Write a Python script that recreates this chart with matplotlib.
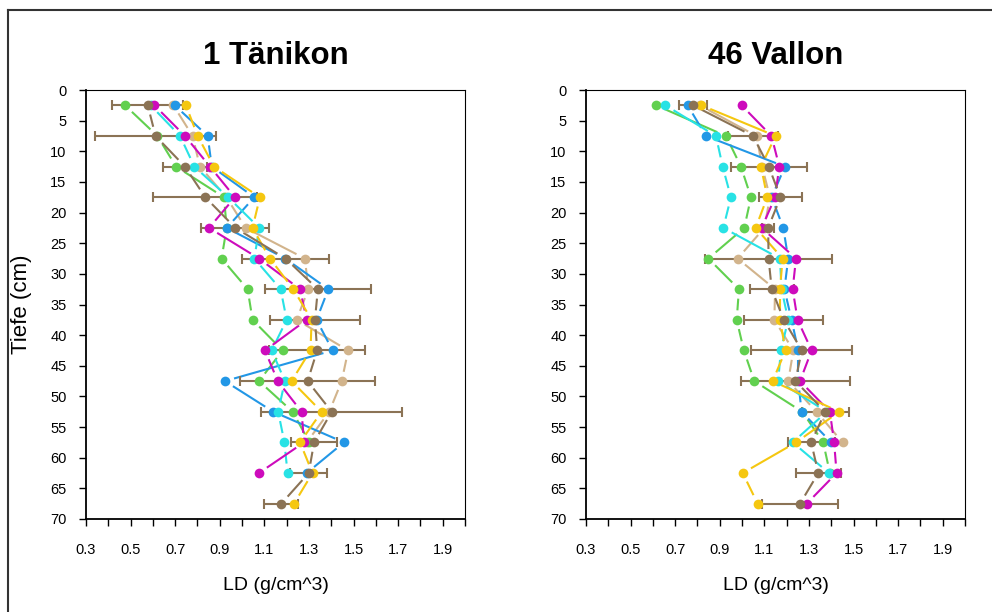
import numpy as np
import matplotlib.pyplot as plt
from matplotlib.lines import Line2D

nan = np.nan

# Tiefe (cm) der Messpunkte
tiefe = [2.5, 7.5, 12.5, 17.5, 22.5, 27.5, 32.5, 37.5, 42.5, 47.5, 52.5, 57.5, 62.5, 67.5]

# ---- 1 Tänikon: Lagerungsdichte (g/cm^3) ----
tae_gruen = [0.475, 0.62, 0.704, 0.919, 0.931, 0.908, 1.025, 1.047, 1.182, 1.076, 1.227, 1.302, nan, nan]
tae_tuerkis = [0.59, 0.722, 0.786, 0.938, 1.077, 1.055, 1.173, 1.200, 1.133, 1.192, 1.162, 1.190, 1.204, nan]
tae_blau = [0.698, 0.846, 0.864, 1.055, 0.931, 1.194, 1.387, 1.334, 1.406, 0.923, 1.140, 1.457, 1.29, nan]
tae_magenta = [0.607, 0.744, 0.856, 0.968, 0.852, 1.076, 1.260, 1.290, 1.103, 1.160, 1.267, 1.278, 1.076, nan]
tae_gelb = [0.748, 0.801, 0.874, 1.080, 1.047, 1.125, 1.230, 1.312, 1.307, 1.222, 1.357, 1.260, 1.316, 1.233]
tae_hellbraun = [0.692, 0.778, 0.811, 0.93, 1.016, 1.282, 1.297, 1.245, 1.476, 1.447, 1.391, 1.29, nan, nan]
tae_mittel = [0.577, 0.612, 0.744, 0.835, 0.970, 1.195, 1.340, 1.327, 1.337, 1.294, 1.402, 1.323, 1.299, 1.176]
tae_sd = [0.16, 0.27, 0.097, 0.233, 0.152, 0.197, 0.237, 0.202, 0.215, 0.303, 0.315, 0.104, 0.084, 0.076]

# ---- 46 Vallon ----
val_gruen = [0.614, 0.928, 0.995, 1.040, 1.010, 0.849, 0.986, 0.976, 1.008, 1.055, 1.27, 1.364, 1.394, nan]
val_tuerkis = [0.656, 0.883, 0.913, 0.950, 0.916, 1.170, 1.177, 1.207, 1.174, 1.162, 1.38, 1.227, 1.39, nan]
val_blau = [0.756, 0.838, 1.192, 1.133, 1.185, 1.207, 1.19, 1.222, 1.252, 1.252, 1.267, 1.40, nan, nan]
val_magenta = [0.998, 1.132, 1.167, 1.148, 1.088, 1.242, 1.227, 1.249, 1.312, 1.26, 1.394, 1.413, 1.424, 1.290]
val_gelb = [0.818, 1.150, 1.085, 1.113, 1.061, 1.182, 1.17, 1.170, 1.195, 1.137, 1.436, 1.242, 1.003, 1.070]
val_hellbraun = [0.81, 1.065, 1.09, 1.125, 1.10, 0.980, 1.148, 1.145, 1.230, 1.207, 1.334, 1.451, nan, nan]
val_mittel = [0.78, 1.049, 1.12, 1.172, 1.117, 1.119, 1.133, 1.187, 1.268, 1.239, 1.373, 1.31, 1.342, 1.26]
val_sd = [0.061, 0.111, 0.17, 0.095, 0.026, 0.286, 0.098, 0.177, 0.226, 0.245, 0.106, 0.106, 0.1, 0.171]

farben = {"gruen": "#61D04F", "tuerkis": "#28E2E5", "blau": "#2297E6",
          "magenta": "#CD0BBC", "gelb": "#F5C710", "hellbraun": "#D2B48C",
          "mittel": "#8B7355"}

plt.rcParams['font.family'] = ['Liberation Sans', 'DejaVu Sans']

W, H = 992, 612
fig = plt.figure(figsize=(W / 100, H / 100), dpi=100)


def line_b(ax, x, y, color, gap=9.5):
    # like R type="b": lines that stop short of the points
    x = np.asarray(x, float)
    y = np.asarray(y, float)
    pts = ax.transData.transform(np.column_stack([x, y]))
    inv = ax.transData.inverted()
    for i in range(len(x) - 1):
        if np.isnan(x[i]) or np.isnan(x[i + 1]):
            continue
        d = pts[i + 1] - pts[i]
        L = np.hypot(d[0], d[1])
        if L <= 2 * gap + 1:
            continue
        u = d / L
        a = inv.transform(np.array([pts[i] + u * gap, pts[i + 1] - u * gap]))
        ax.plot(a[:, 0], a[:, 1], color=color, lw=1.5, solid_capstyle='butt', zorder=2)
    ax.plot(x, y, 'o', color=color, ms=7, mec='none', zorder=4)


def panel(left, title, reihen, mittel, sd):
    ax = fig.add_axes([left / W, 1 - 519 / H, 379 / W, 429 / H])
    ax.set_xlim(0.3, 2.0)
    ax.set_ylim(70, 0)
    for name, werte in reihen:
        line_b(ax, werte, tiefe, farben[name])
    ax.errorbar(mittel, tiefe, xerr=sd, fmt='none', ecolor=farben["mittel"],
                elinewidth=1.5, capsize=3.5, capthick=1.5, zorder=3)
    line_b(ax, mittel, tiefe, farben["mittel"])
    ax.set_xticks(np.arange(0.3, 2.01, 0.1))
    ax.set_xticklabels([f"{v:.1f}" if i % 2 == 0 and v < 1.95 else "" for i, v in
                        enumerate(np.arange(0.3, 2.01, 0.1))])
    ax.set_yticks(np.arange(0, 71, 5))
    ax.tick_params(direction='out', length=5, width=1, labelsize=10.5, pad=9)
    ax.tick_params(axis='x', pad=12)
    for s in ax.spines.values():
        s.set_linewidth(0.8)
    ax.spines['bottom'].set_linewidth(1.3)
    ax.spines['left'].set_linewidth(1.3)
    ax.set_xlabel("LD (g/cm^3)", fontsize=14, labelpad=15)
    ax.set_title(title, fontsize=22.5, fontweight='bold', pad=19)
    return ax


ax1 = panel(86, "1 Tänikon",
            [("hellbraun", tae_hellbraun), ("gruen", tae_gruen), ("blau", tae_blau),
             ("tuerkis", tae_tuerkis), ("magenta", tae_magenta), ("gelb", tae_gelb)],
            tae_mittel, tae_sd)
ax1.set_ylabel("Tiefe (cm)", fontsize=16, labelpad=13)
ax2 = panel(586, "46 Vallon",
            [("hellbraun", val_hellbraun), ("gruen", val_gruen), ("blau", val_blau),
             ("tuerkis", val_tuerkis), ("magenta", val_magenta), ("gelb", val_gelb)],
            val_mittel, val_sd)

# frame of the screenshot (top and left edge only)
fig.add_artist(Line2D([8 / W, 1], [1 - 10 / H, 1 - 10 / H], color='#333333', lw=1.5,
                      transform=fig.transFigure))
fig.add_artist(Line2D([8 / W, 8 / W], [0, 1 - 10 / H], color='#333333', lw=1.5,
                      transform=fig.transFigure))

fig.savefig("out.png", dpi=100)
